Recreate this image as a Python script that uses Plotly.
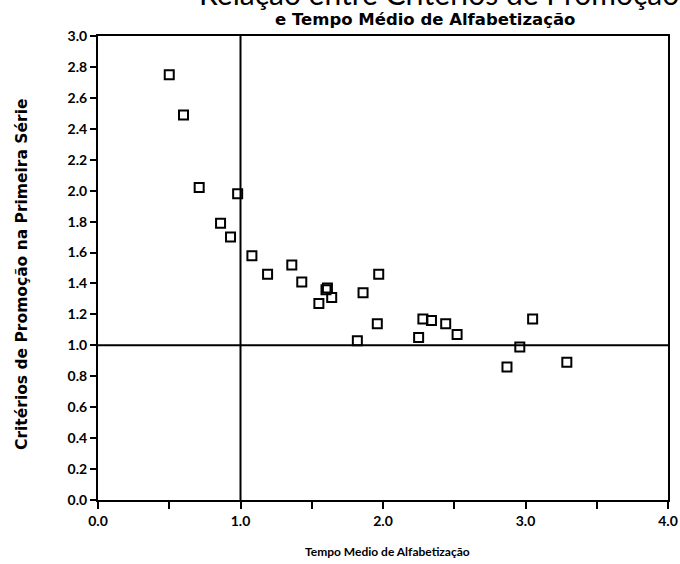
import plotly.graph_objects as go

# Data
tempo_medio = [0.50, 0.60, 0.71, 0.98, 0.86, 0.93, 1.08, 1.19, 1.36, 1.43,
               1.61, 1.60, 1.64, 1.55, 1.86, 1.97, 1.96, 1.82, 2.28, 2.34,
               2.44, 2.52, 2.25, 3.05, 2.96, 2.87, 3.29]
criterios = [2.75, 2.49, 2.02, 1.98, 1.79, 1.70, 1.58, 1.46, 1.52, 1.41,
             1.37, 1.36, 1.31, 1.27, 1.34, 1.46, 1.14, 1.03, 1.17, 1.16,
             1.14, 1.07, 1.05, 1.17, 0.99, 0.86, 0.89]

x_ticks = [0.0, 0.5, 1.0, 1.5, 2.0, 2.5, 3.0, 3.5, 4.0]
x_tick_text = ["0.0", "", "1.0", "", "2.0", "", "3.0", "", "4.0"]
y_ticks = [0.0, 0.2, 0.4, 0.6, 0.8, 1.0, 1.2, 1.4, 1.6, 1.8, 2.0,
           2.2, 2.4, 2.6, 2.8, 3.0]
y_tick_text = [f"{v:.1f}" for v in y_ticks]

FONT = "Lato"
WIDE = "DejaVu Sans"

W, H = 680, 564
L, R, T, B = 98, 12, 36, 64
PW, PH = W - L - R, H - T - B


def px(xp):
    return (xp - L) / PW


def py(yp):
    return (H - B - yp) / PH


fig = go.Figure()
fig.add_trace(go.Scatter(
    x=tempo_medio, y=criterios, mode="markers",
    marker=dict(symbol="square-open", size=9, color="black",
                line=dict(width=2, color="black")),
    showlegend=False, cliponaxis=False,
))

# Reference lines at 1.0
fig.add_shape(type="line", xref="x", yref="paper", x0=1.0, x1=1.0, y0=0, y1=1,
              line=dict(color="black", width=2))
fig.add_shape(type="line", xref="paper", yref="y", x0=0, x1=1, y0=1.0, y1=1.0,
              line=dict(color="black", width=2))

axis_common = dict(
    ticks="outside", tickwidth=2, tickcolor="black",
    showline=True, linecolor="black", linewidth=2, mirror=True,
    showgrid=False, zeroline=False, automargin=False,
    tickfont=dict(family=FONT, size=14, weight="bold", color="black"),
)

fig.update_layout(
    width=W, height=H,
    margin=dict(l=L, r=R, t=T, b=B, autoexpand=False),
    paper_bgcolor="white", plot_bgcolor="white",
    font=dict(family=FONT, color="black"),
    xaxis=dict(range=[0, 4], tickvals=x_ticks, ticktext=x_tick_text,
               ticklen=7, **axis_common),
    yaxis=dict(range=[0, 3], tickvals=y_ticks, ticktext=y_tick_text,
               ticklen=6, **axis_common),
)

# Axis titles
fig.add_annotation(text="Tempo Medio de Alfabetização",
                   xref="paper", yref="paper", x=px(387), y=py(551),
                   xanchor="center", yanchor="middle", showarrow=False,
                   font=dict(family=FONT, size=12, weight="bold", color="black"))
fig.add_annotation(text="Critérios de Promoção na Primeira Série",
                   xref="paper", yref="paper", x=px(22), y=py(275),
                   xanchor="center", yanchor="middle", textangle=-90,
                   showarrow=False,
                   font=dict(family=WIDE, size=15.5, weight="bold", color="black"))

# Title, partly cut by the top edge as in the scanned reference
fig.add_annotation(text="Relação entre Critérios de Promoção",
                   xref="paper", yref="paper", x=px(197), y=py(14),
                   xanchor="left", yanchor="bottom", yshift=1,
                   showarrow=False,
                   font=dict(family=FONT, size=30, color="black"))
fig.add_annotation(text="e Tempo Médio de Alfabetização",
                   xref="paper", yref="paper", x=px(425), y=py(20),
                   xanchor="center", yanchor="middle",
                   showarrow=False,
                   font=dict(family=WIDE, size=16.5, weight="bold", color="black"))

fig.write_html("out.html")
